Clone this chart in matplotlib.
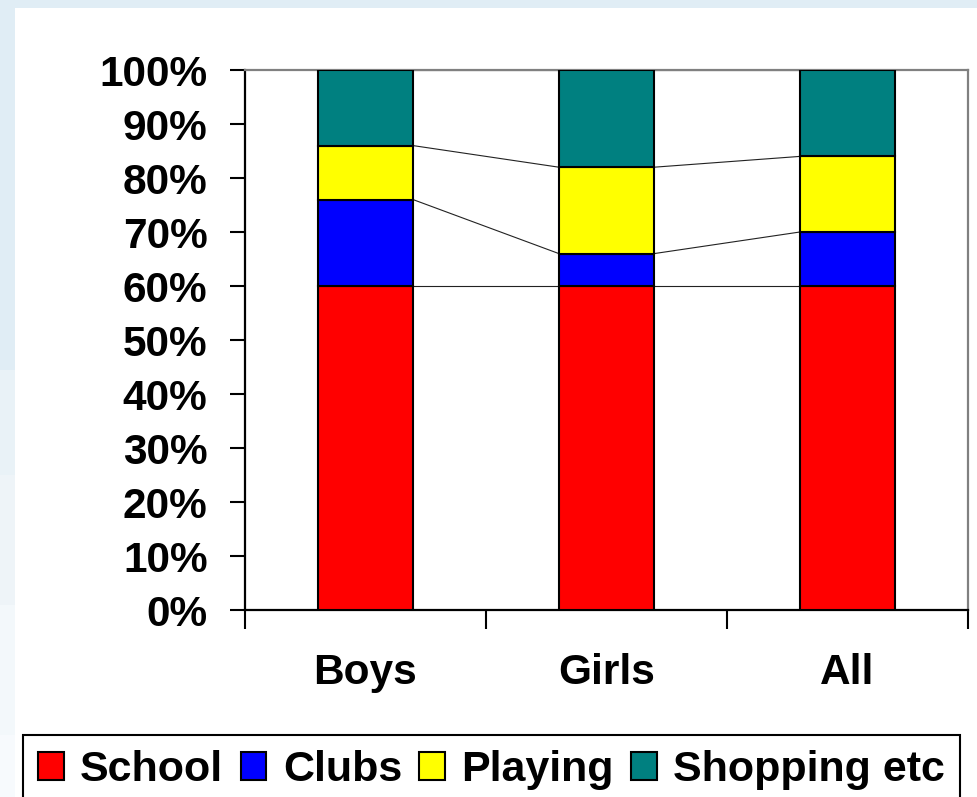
import matplotlib
matplotlib.use("Agg")
import matplotlib.pyplot as plt
from matplotlib.patches import Rectangle
import numpy as np

# Data
groups = ["Boys", "Girls", "All"]
series = ["School", "Clubs", "Playing", "Shopping etc"]
school = [60, 60, 60]
clubs = [16, 6, 10]
playing = [10, 16, 14]
shopping = [14, 18, 16]
colors = ["#ff0000", "#0000ff", "#ffff00", "#008080"]
ytick_labels = ["0%", "10%", "20%", "30%", "40%", "50%", "60%", "70%", "80%", "90%", "100%"]

plt.rcParams["font.family"] = ["Liberation Sans", "DejaVu Sans"]
plt.rcParams["font.weight"] = "bold"

W, H = 978, 797
fig = plt.figure(figsize=(W / 100, H / 100), dpi=100)
fig.patch.set_facecolor("#ffffff")

# Slide-style background: light blue top band and fading left band
bg = fig.add_axes([0, 0, 1, 1], zorder=-10)
bg.set_xlim(0, W)
bg.set_ylim(H, 0)
bg.axis("off")
bg.add_patch(Rectangle((0, 0), W, 8, color="#e0edf5", lw=0))
bands = [(0, 370, "#e0edf5"), (370, 475, "#e9f2f7"), (475, 605, "#eef4f8"),
         (605, 735, "#f3f8fb"), (735, 797, "#f7fafd")]
for y0, y1, c in bands:
    bg.add_patch(Rectangle((0, y0), 15, y1 - y0, color=c, lw=0))

# Plot area
ax = fig.add_axes([245 / W, (H - 610) / H, (968 - 245) / W, (610 - 70) / H])
ax.set_facecolor("white")

x = np.arange(len(groups))
width = 0.395
stack = [school, clubs, playing, shopping]
bottom = np.zeros(len(groups))
tops = []
for vals, name, c in zip(stack, series, colors):
    vals = np.array(vals, dtype=float)
    ax.bar(x, vals, width, bottom=bottom, color=c, edgecolor="black",
           linewidth=1.5, label=name, zorder=3)
    bottom = bottom + vals
    tops.append(bottom.copy())

# Series lines joining the stacked segment boundaries
for level in tops:
    for i in range(len(groups) - 1):
        ax.plot([x[i] + width / 2, x[i + 1] - width / 2], [level[i], level[i + 1]],
                color="#222222", lw=0.8, zorder=2)

ax.set_xlim(-0.5, 2.5)
ax.set_ylim(0, 100)

ax.set_yticks(np.arange(0, 101, 10))
ax.set_yticklabels(ytick_labels, fontsize=30.5, fontweight="bold")
ax.tick_params(axis="y", direction="out", length=11, width=1.5, pad=16, color="black")

ax.set_xticks([-0.5, 0.5, 1.5, 2.5])
ax.set_xticklabels([])
ax.tick_params(axis="x", which="major", direction="out", length=14, width=1.5, color="black")
ax.set_xticks(x, minor=True)
ax.set_xticklabels(groups, minor=True, fontsize=30.5, fontweight="bold")
ax.tick_params(axis="x", which="minor", length=0, pad=31)

for s in ["left", "bottom"]:
    ax.spines[s].set_color("black")
    ax.spines[s].set_linewidth(1.6)
for s in ["top", "right"]:
    ax.spines[s].set_color("#808080")
    ax.spines[s].set_linewidth(1.6)

leg = fig.legend(loc="upper left", bbox_to_anchor=(23 / W, 1 - 735 / H),
                 ncol=4, prop={"weight": "bold", "size": 31},
                 frameon=True, fancybox=False, borderpad=0.35,
                 handlelength=0.6, handleheight=0.6, handletextpad=0.38,
                 columnspacing=0.4, borderaxespad=0)
leg.get_frame().set_edgecolor("black")
leg.get_frame().set_linewidth(1.5)
leg.get_frame().set_facecolor("white")
leg.get_frame().set_alpha(1)

fig.savefig("out.png", dpi=100)
